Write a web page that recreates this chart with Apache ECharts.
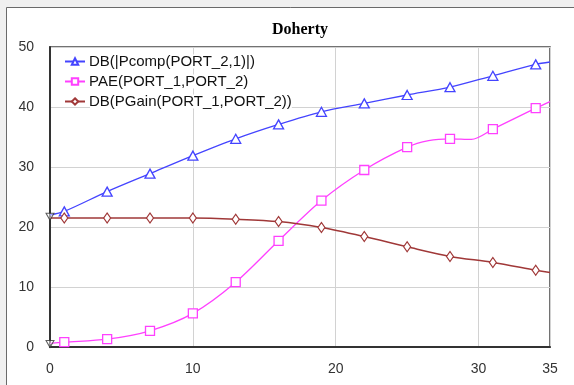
<!DOCTYPE html>
<html>
<head>
<meta charset="utf-8">
<script src="https://cdn.jsdelivr.net/npm/echarts@6/dist/echarts.min.js"></script>
<style>
html,body{margin:0;padding:0;background:#f0f0f0;}
#c{width:574px;height:385px;}
</style>
</head>
<body>
<div id="c"></div>
<script>
// ---- data ----
var xTicks = [0, 10, 20, 30, 35];
var yTicks = [0, 10, 20, 30, 40, 50];
var seriesNames = ['DB(|Pcomp(PORT_2,1)|)', 'PAE(PORT_1,PORT_2)', 'DB(PGain(PORT_1,PORT_2))'];
var xs      = [0,    1,    4,    7,    10,   13,   16,   19,   22,   25,   28,   31,   34,   35];
var pcomp   = [22.0, 22.6, 25.9, 28.9, 31.9, 34.7, 37.1, 39.2, 40.6, 42.0, 43.3, 45.2, 47.1, 47.5];
var pae     = [0.6,  0.8,  1.3,  2.7,  5.6,  10.8, 17.7, 24.4, 29.5, 33.3, 34.7, 36.3, 39.8, 40.9];
var pgain   = [21.5, 21.5, 21.5, 21.5, 21.5, 21.3, 20.9, 19.9, 18.4, 16.7, 15.1, 14.1, 12.8, 12.4];
// extra (unmarked) PAE points where the curve bends
var paeExtraX = [26.5, 29.5];
var paeExtraY = [34.4, 34.6];
// markers at x = 0
var startMarkX = [0, 0];
var startMarkY = [21.7, 0.5];

function build(xv, yv, ex, ey) {
  var pts = [];
  for (var i = 0; i < xv.length; i++) {
    var item = {value: [xv[i], yv[i]]};
    if (xv[i] === 0 || xv[i] === 35) item.symbol = 'none';
    pts.push(item);
  }
  if (ex) for (var j = 0; j < ex.length; j++) pts.push({value: [ex[j], ey[j]], symbol: 'none'});
  pts.sort(function (a, b) { return a.value[0] - b.value[0]; });
  return pts;
}

var chart = echarts.init(document.getElementById('c'), null, {renderer: 'canvas'});
var colors = ['#4444ff', '#ff40ff', '#a03838'];
var font = 'Arial, "Liberation Sans", sans-serif';

chart.setOption({
  backgroundColor: '#f0f0f0',
  animation: false,
  graphic: [{
    type: 'rect', z: -10, silent: true,
    shape: {x: 6.5, y: 7.5, width: 600, height: 400},
    style: {fill: '#ffffff', stroke: '#6a6a6a', lineWidth: 1}
  }],
  title: {
    text: 'Doherty', left: 300, top: 22, textAlign: 'center', padding: 0,
    textStyle: {fontFamily: '"Liberation Serif", "Times New Roman", serif', fontWeight: 'bold', fontSize: 16, color: '#000'}
  },
  legend: {
    orient: 'vertical', left: 64, top: 54, padding: 0,
    itemWidth: 20, itemHeight: 8, itemGap: 5,
    data: seriesNames,
    textStyle: {fontFamily: font, fontSize: 15, color: '#111', backgroundColor: '#fff', lineHeight: 14, padding: [0, 0, 0, -1]}
  },
  grid: {left: 50, top: 47, right: 24, bottom: 38, show: true, borderColor: '#444', borderWidth: 1.5, backgroundColor: 'transparent'},
  xAxis: {
    type: 'value', min: 0, max: 35, interval: 10,
    axisLine: {show: true, onZero: false, lineStyle: {color: '#333', width: 2}},
    axisTick: {show: false},
    splitLine: {show: true, lineStyle: {color: '#d2d2d2', width: 1}},
    axisLabel: {margin: 15, fontFamily: font, fontSize: 14, color: '#333', showMaxLabel: true,
      formatter: function (v) { return xTicks.indexOf(v) >= 0 ? String(v) : ''; }}
  },
  yAxis: {
    type: 'value', min: 0, max: 50, interval: 10,
    axisLine: {show: true, onZero: false, lineStyle: {color: '#333', width: 2}},
    axisTick: {show: false},
    splitLine: {show: true, lineStyle: {color: '#d2d2d2', width: 1}},
    axisLabel: {margin: 16, fontFamily: font, fontSize: 14, color: '#333',
      formatter: function (v) { return yTicks.indexOf(v) >= 0 ? String(v) : ''; }}
  },
  series: [
    {
      name: seriesNames[0], type: 'line', smooth: 0.3, data: build(xs, pcomp),
      symbol: 'triangle', symbolSize: [10, 9], showAllSymbol: true,
      lineStyle: {color: colors[0], width: 1.3}, itemStyle: {color: '#fff', borderColor: colors[0], borderWidth: 1.3}, color: colors[0]
    },
    {
      name: seriesNames[1], type: 'line', smooth: 0.3, data: build(xs, pae, paeExtraX, paeExtraY),
      symbol: 'rect', symbolSize: 9, showAllSymbol: true,
      lineStyle: {color: colors[1], width: 1.3}, itemStyle: {color: '#fff', borderColor: colors[1], borderWidth: 1.3}, color: colors[1]
    },
    {
      name: seriesNames[2], type: 'line', smooth: 0.3, data: build(xs, pgain),
      symbol: 'diamond', symbolSize: [7, 10], showAllSymbol: true,
      lineStyle: {color: colors[2], width: 1.5}, itemStyle: {color: '#fff', borderColor: colors[2], borderWidth: 1.2}, color: colors[2]
    },
    {
      type: 'scatter', silent: true, z: 5,
      data: startMarkX.map(function (x, i) { return [x, startMarkY[i]]; }),
      symbol: 'triangle', symbolRotate: 180, symbolSize: [8, 7],
      itemStyle: {color: 'rgba(255,255,255,0.6)', borderColor: '#333', borderWidth: 1}
    }
  ]
});
</script>
</body>
</html>
